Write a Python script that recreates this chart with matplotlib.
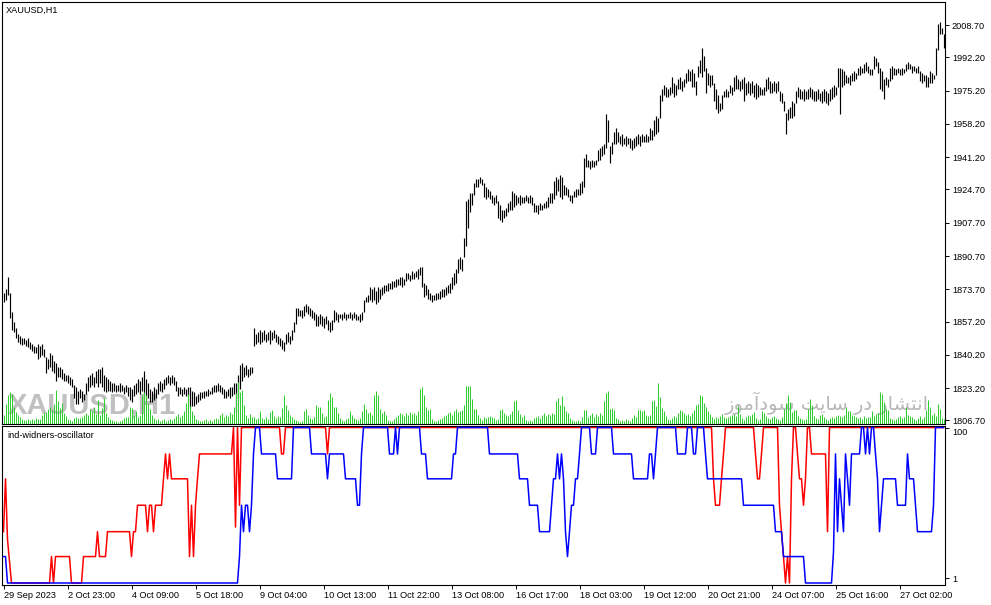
import numpy as np
import matplotlib
matplotlib.use("Agg")
import matplotlib.pyplot as plt

# ---------------- data (hourly XAUUSD bars, 29 Sep - 27 Oct 2023) ----------------
HIGH = [
    1872, 1874, 1880, 1872, 1862, 1857, 1854, 1851, 1850, 1849, 1849,
    1848, 1849, 1847, 1846, 1845, 1844, 1846, 1845, 1846, 1843,
    1839, 1838, 1841, 1840, 1837, 1836, 1834, 1834, 1833, 1831,
    1830, 1830, 1829, 1828, 1825, 1824, 1822, 1823, 1822, 1820,
    1826, 1829, 1830, 1831, 1829, 1832, 1833, 1833, 1834, 1830,
    1829, 1828, 1827, 1826, 1826, 1825, 1825, 1826, 1825, 1824,
    1825, 1824, 1824, 1823, 1825, 1826, 1828, 1827, 1829, 1832,
    1828, 1826, 1823, 1822, 1824, 1823, 1826, 1827, 1826, 1828,
    1829, 1830, 1829, 1830, 1829, 1827, 1824, 1824, 1823, 1824,
    1823, 1824, 1824, 1822, 1821, 1819, 1820, 1821, 1821, 1822,
    1822, 1823, 1822, 1824, 1825, 1825, 1826, 1825, 1824, 1823,
    1822, 1823, 1824, 1824, 1826, 1826, 1830, 1835, 1836, 1834,
    1835, 1833, 1834, 1834, 1854, 1851, 1852, 1853, 1852, 1853,
    1851, 1852, 1853, 1852, 1853, 1851, 1850, 1849, 1848, 1847,
    1851, 1852, 1850, 1853, 1857, 1864, 1864, 1863, 1863, 1865,
    1866, 1865, 1864, 1863, 1862, 1861, 1860, 1861, 1860, 1859,
    1860, 1858, 1857, 1858, 1863, 1862, 1861, 1861, 1861, 1862,
    1861, 1861, 1862, 1861, 1862, 1861, 1860, 1861, 1862, 1868,
    1870, 1871, 1875, 1874, 1875, 1873, 1875, 1874, 1875, 1876,
    1876, 1877, 1877, 1878, 1878, 1879, 1879, 1880, 1880, 1879,
    1882, 1882, 1881, 1883, 1882, 1883, 1884, 1885, 1885, 1877,
    1876, 1874, 1872, 1871, 1871, 1872, 1872, 1873, 1874, 1874,
    1875, 1876, 1877, 1880, 1882, 1884, 1889, 1890, 1889, 1900,
    1919, 1920, 1923, 1923, 1928, 1930, 1930, 1931, 1930, 1928,
    1926, 1925, 1924, 1922, 1921, 1922, 1919, 1917, 1914, 1914,
    1915, 1918, 1919, 1924, 1923, 1922, 1921, 1922, 1921, 1921,
    1922, 1921, 1922, 1921, 1918, 1917, 1917, 1918, 1917, 1918,
    1919, 1921, 1923, 1923, 1929, 1931, 1930, 1932, 1931, 1927,
    1926, 1925, 1922, 1922, 1924, 1925, 1925, 1928, 1929, 1941,
    1943, 1940, 1939, 1940, 1939, 1940, 1945, 1946, 1947, 1948,
    1963, 1960, 1947, 1949, 1954, 1956, 1954, 1952, 1953, 1951,
    1952, 1951, 1951, 1950, 1951, 1952, 1953, 1952, 1953, 1952,
    1953, 1952, 1956, 1955, 1960, 1962, 1961, 1973, 1976, 1978,
    1977, 1976, 1977, 1982, 1979, 1978, 1981, 1982, 1980, 1981,
    1984, 1986, 1985, 1986, 1984, 1980, 1988, 1991, 1997, 1993,
    1987, 1984, 1983, 1983, 1979, 1976, 1973, 1969, 1973, 1975,
    1976, 1975, 1978, 1977, 1982, 1983, 1981, 1980, 1981, 1982,
    1979, 1980, 1979, 1980, 1978, 1979, 1978, 1977, 1976, 1977,
    1981, 1982, 1980, 1979, 1980, 1979, 1980, 1975, 1974, 1970,
    1964, 1966, 1967, 1970, 1969, 1975, 1977, 1976, 1975, 1976,
    1975, 1976, 1977, 1976, 1975, 1975, 1976, 1974, 1975, 1976,
    1975, 1974, 1976, 1977, 1978, 1977, 1987, 1987, 1986, 1985,
    1983, 1982, 1983, 1984, 1985, 1984, 1987, 1988, 1987, 1989,
    1990, 1988, 1986, 1986, 1993, 1992, 1990, 1987, 1985, 1981,
    1982, 1981, 1987, 1988, 1987, 1986, 1987, 1986, 1987, 1986,
    1989, 1990, 1989, 1988, 1988, 1987, 1988, 1985, 1984, 1983,
    1983, 1982, 1985, 1984, 1983, 1997, 2009, 2010, 2007, 2004,
]

LOW = [
    1867, 1868, 1871, 1859, 1853, 1852, 1849, 1847, 1846, 1845.5, 1846,
    1845, 1844, 1843, 1842, 1841, 1841, 1838, 1839, 1840, 1839,
    1831, 1833, 1834, 1832, 1831, 1827, 1829, 1829, 1828, 1827,
    1827, 1826, 1825, 1824, 1818, 1815, 1815, 1818, 1816, 1817,
    1820, 1822, 1824, 1825, 1824, 1826, 1824, 1826, 1824, 1822,
    1821, 1822, 1822, 1821, 1822, 1821, 1822, 1821, 1822, 1820,
    1821, 1819, 1817, 1816, 1819, 1820, 1821, 1820, 1822, 1820,
    1817, 1818, 1816, 1816, 1817, 1818, 1820, 1822, 1821, 1823,
    1825, 1826, 1825, 1826, 1825, 1822, 1819, 1820, 1819, 1820,
    1819, 1819, 1813, 1814, 1814, 1815, 1816, 1817, 1818, 1818,
    1819, 1819, 1820, 1820, 1821, 1821, 1822, 1821, 1820, 1818,
    1818, 1819, 1818, 1819, 1820, 1811, 1818, 1823, 1827, 1829,
    1830, 1829, 1830, 1831, 1845, 1846, 1847, 1846, 1847, 1848,
    1847, 1848, 1846, 1848, 1849, 1847, 1846, 1845, 1843, 1842,
    1846, 1847, 1846, 1848, 1852, 1856, 1860, 1860, 1859, 1860,
    1862, 1861, 1860, 1859, 1858, 1855, 1855, 1856, 1855, 1854,
    1856, 1853, 1852, 1853, 1857, 1858, 1857, 1859, 1858, 1859,
    1858, 1859, 1859, 1858, 1859, 1858, 1858, 1857, 1858, 1862,
    1867, 1867, 1868, 1867, 1868, 1866, 1867, 1869, 1871, 1872,
    1873, 1873, 1874, 1874, 1875, 1875, 1876, 1876, 1875, 1876,
    1878, 1879, 1878, 1879, 1879, 1880, 1879, 1881, 1875, 1870,
    1871, 1869, 1868, 1867, 1868, 1868, 1869, 1869, 1870, 1870,
    1871, 1872, 1872, 1874, 1876, 1877, 1882, 1884, 1883, 1890,
    1896, 1905, 1913, 1917, 1922, 1926, 1926, 1928, 1927, 1921,
    1920, 1921, 1920, 1918, 1917, 1918, 1910, 1909, 1908, 1910,
    1911, 1913, 1914, 1914, 1916, 1917, 1918, 1917, 1918, 1918,
    1919, 1918, 1918, 1917, 1913, 1913, 1912, 1914, 1914, 1915,
    1915, 1916, 1918, 1918, 1920, 1922, 1924, 1921, 1920, 1922,
    1922, 1921, 1919, 1918, 1921, 1921, 1922, 1922, 1923, 1926,
    1936, 1936, 1935, 1936, 1936, 1937, 1939, 1940, 1942, 1943,
    1946, 1949, 1938, 1943, 1948, 1948, 1949, 1948, 1947, 1948,
    1947, 1948, 1946, 1945, 1946, 1947, 1948, 1947, 1949, 1949,
    1949, 1949, 1950, 1950, 1952, 1953, 1954, 1961, 1970, 1973,
    1972, 1972, 1973, 1974, 1972, 1973, 1976, 1976, 1975, 1977,
    1979, 1980, 1980, 1977, 1977, 1973, 1982, 1984, 1982, 1985,
    1974, 1978, 1977, 1978, 1970, 1966, 1964, 1965, 1966, 1972,
    1972, 1972, 1974, 1973, 1975, 1976, 1976, 1975, 1976, 1970,
    1973, 1974, 1973, 1974, 1972, 1971, 1972, 1973, 1973, 1973,
    1975, 1976, 1974, 1974, 1975, 1974, 1975, 1970, 1969, 1965,
    1953, 1960, 1961, 1961, 1962, 1969, 1972, 1971, 1971, 1970,
    1971, 1971, 1972, 1971, 1970, 1970, 1971, 1970, 1969, 1970,
    1969, 1968, 1970, 1971, 1972, 1973, 1977, 1963, 1977, 1978,
    1979, 1979, 1978, 1980, 1980, 1981, 1983, 1983, 1984, 1984,
    1985, 1984, 1983, 1983, 1986, 1988, 1984, 1976, 1975, 1971,
    1978, 1977, 1980, 1981, 1983, 1983, 1984, 1983, 1983, 1984,
    1985, 1986, 1986, 1984, 1985, 1984, 1984, 1980, 1979, 1980,
    1977, 1977, 1979, 1979, 1981, 1983, 1996, 2004, 2004, 1997,
]

# tick volume (hundreds of ticks)
VOLUME = [
    8, 19, 28, 31, 29, 16, 11, 8, 6, 4, 3,
    3, 4, 3, 4, 3, 5, 4, 4, 8, 10,
    11, 14, 16, 13, 19, 33, 22, 15, 20, 10,
    7, 4, 3, 2, 5, 6, 5, 5, 6, 8,
    10, 8, 14, 12, 16, 9, 23, 8, 15, 25,
    10, 6, 4, 3, 2, 2, 1, 2, 3, 5,
    6, 6, 16, 15, 8, 12, 6, 8, 28, 31,
    28, 20, 14, 8, 5, 3, 4, 2, 3, 4,
    2, 3, 4, 3, 5, 7, 9, 6, 8, 12,
    20, 29, 17, 12, 8, 4, 3, 2, 2, 3,
    4, 2, 3, 2, 4, 5, 4, 8, 10, 6,
    8, 7, 11, 9, 16, 30, 41, 31, 33, 18,
    8, 5, 9, 6, 6, 4, 5, 12, 5, 4,
    6, 4, 11, 13, 7, 5, 7, 6, 15, 28,
    18, 13, 8, 6, 4, 3, 2, 1, 2, 12,
    14, 8, 5, 4, 6, 18, 16, 16, 10, 6,
    7, 23, 30, 26, 16, 16, 10, 5, 3, 2,
    4, 5, 12, 8, 5, 4, 3, 5, 12, 19,
    14, 10, 11, 8, 28, 32, 28, 14, 10, 12,
    8, 3, 2, 2, 4, 6, 8, 10, 9, 7,
    10, 8, 11, 9, 10, 8, 12, 34, 36, 28,
    16, 13, 14, 4, 2, 2, 3, 4, 5, 7,
    8, 10, 11, 8, 12, 14, 11, 12, 13, 18,
    37, 37, 37, 24, 14, 14, 8, 5, 3, 6,
    5, 6, 7, 6, 5, 3, 4, 13, 14, 10,
    8, 7, 9, 12, 22, 23, 13, 9, 6, 8,
    3, 2, 3, 2, 5, 6, 7, 5, 8, 10,
    7, 9, 8, 10, 9, 22, 25, 18, 27, 17,
    12, 10, 5, 3, 2, 2, 3, 2, 6, 13,
    13, 6, 8, 10, 6, 9, 7, 10, 8, 22,
    30, 32, 14, 15, 13, 5, 4, 2, 3, 2,
    4, 3, 2, 5, 8, 6, 13, 13, 12, 13,
    8, 7, 8, 22, 23, 17, 40, 26, 15, 12,
    7, 4, 3, 5, 7, 6, 10, 13, 12, 10,
    8, 9, 7, 10, 13, 18, 19, 28, 27, 20,
    16, 12, 9, 6, 4, 6, 5, 7, 9, 6,
    5, 6, 7, 8, 9, 7, 17, 9, 5, 3,
    6, 8, 7, 9, 11, 5, 3, 4, 12, 10,
    7, 5, 4, 6, 7, 5, 4, 3, 6, 14,
    20, 28, 21, 11, 13, 13, 7, 5, 4, 3,
    4, 14, 24, 18, 7, 5, 4, 8, 9, 6,
    4, 3, 5, 6, 5, 7, 8, 7, 6, 8,
    16, 12, 12, 8, 7, 6, 5, 6, 4, 7,
    5, 6, 6, 12, 7, 9, 10, 31, 29, 21,
    14, 13, 5, 4, 3, 4, 6, 7, 5, 6,
    16, 8, 7, 6, 4, 3, 5, 7, 4, 6,
    13, 23, 16, 8, 10, 7, 19, 14, 5, 4,
]

# ind-widners-oscillator: red and blue lines (0..100)
RED = [
    33, 67, 28, 14, 0, 0, 0, 0, 0, 0, 0, 0, 0, 0, 0, 0, 0, 0, 0, 0,
    0, 0, 0, 0, 17, 0, 17, 17, 17, 17, 17, 17, 17, 17, 0, 0, 0, 0, 0, 0,
    17, 17, 17, 17, 17, 17, 17, 33, 17, 17, 17, 17, 33, 33, 33, 33, 33, 33, 33, 33,
    33, 33, 33, 33, 17, 33, 33, 50, 50, 50, 50, 50, 33, 50, 50, 33, 50, 50, 50, 50,
    67, 83, 67, 83, 67, 67, 67, 67, 67, 67, 67, 67, 67, 17, 50, 17, 50, 67, 83, 83,
    83, 83, 83, 83, 83, 83, 83, 83, 83, 83, 83, 83, 83, 83, 83, 100, 36, 100, 50, 100,
    100, 100, 100, 100, 100, 100, 100, 100, 100, 100, 100, 100, 100, 100, 100, 100, 100, 100, 100, 83,
    83, 100, 100, 100, 100, 100, 100, 100, 100, 100, 100, 100, 100, 100, 100, 100, 100, 100, 100, 100,
    100, 100, 83, 100, 100, 100, 100, 100, 100, 100, 100, 100, 100, 100, 100, 100, 100, 100, 100, 100,
    100, 100, 100, 100, 100, 100, 100, 100, 100, 100, 100, 100, 100, 100, 100, 100, 100, 100, 100, 100,
    100, 100, 100, 100, 100, 100, 100, 100, 100, 100, 100, 100, 100, 100, 100, 100, 100, 100, 100, 100,
    100, 100, 100, 100, 100, 100, 100, 100, 100, 100, 100, 100, 100, 100, 100, 100, 100, 100, 100, 100,
    100, 100, 100, 100, 100, 100, 100, 100, 100, 100, 100, 100, 100, 100, 100, 100, 100, 100, 100, 100,
    100, 100, 100, 100, 100, 100, 100, 100, 100, 100, 100, 100, 100, 100, 100, 100, 100, 100, 100, 100,
    100, 100, 100, 100, 100, 100, 100, 100, 100, 100, 100, 100, 100, 100, 100, 100, 100, 100, 100, 100,
    100, 100, 100, 100, 100, 100, 100, 100, 100, 100, 100, 100, 100, 100, 100, 100, 100, 100, 100, 100,
    100, 100, 100, 100, 100, 100, 100, 100, 100, 100, 100, 100, 100, 100, 100, 100, 100, 100, 100, 100,
    100, 100, 100, 100, 100, 100, 100, 100, 100, 100, 100, 100, 100, 100, 100, 67, 50, 50, 50, 67,
    83, 100, 100, 100, 100, 100, 100, 100, 100, 100, 100, 100, 100, 100, 100, 100, 83, 67, 67, 83,
    100, 100, 100, 100, 100, 100, 100, 100, 50, 33, 17, 0, 17, 0, 67, 100, 100, 83, 67, 67,
    50, 67, 100, 100, 83, 83, 83, 83, 83, 83, 83, 83, 33, 100, 100, 100, 100, 100, 100, 100,
    100, 100, 100, 100, 100, 100, 100, 100, 100, 100, 100, 100, 100, 100, 100, 100, 100, 100, 100, 100,
    100, 100, 100, 100, 100, 100, 100, 100, 100, 100, 100, 100, 100, 100, 100, 100, 100, 100, 100, 100,
    100, 100, 100, 100, 100, 100, 100, 100, 100, 100, 100,
]

BLUE = [
    17, 17, 0, 0, 0, 0, 0, 0, 0, 0, 0, 0, 0, 0, 0, 0, 0, 0, 0, 0,
    0, 0, 0, 0, 0, 0, 0, 0, 0, 0, 0, 0, 0, 0, 0, 0, 0, 0, 0, 0,
    0, 0, 0, 0, 0, 0, 0, 0, 0, 0, 0, 0, 0, 0, 0, 0, 0, 0, 0, 0,
    0, 0, 0, 0, 0, 0, 0, 0, 0, 0, 0, 0, 0, 0, 0, 0, 0, 0, 0, 0,
    0, 0, 0, 0, 0, 0, 0, 0, 0, 0, 0, 0, 0, 0, 0, 0, 0, 0, 0, 0,
    0, 0, 0, 0, 0, 0, 0, 0, 0, 0, 0, 0, 0, 0, 0, 0, 0, 0, 17, 50,
    33, 50, 50, 33, 50, 83, 100, 100, 100, 83, 83, 83, 83, 83, 83, 83, 83, 67, 67, 67,
    67, 67, 67, 67, 67, 100, 100, 100, 100, 100, 100, 100, 100, 100, 83, 83, 83, 83, 83, 83,
    83, 83, 67, 83, 83, 83, 83, 83, 83, 83, 83, 67, 67, 67, 67, 67, 67, 50, 50, 83,
    100, 100, 100, 100, 100, 100, 100, 100, 100, 100, 100, 100, 100, 83, 83, 83, 100, 83, 100, 100,
    100, 100, 100, 100, 100, 100, 100, 100, 100, 83, 83, 83, 67, 67, 67, 67, 67, 67, 67, 67,
    67, 67, 67, 67, 67, 83, 83, 100, 100, 100, 100, 100, 100, 100, 100, 100, 100, 100, 100, 100,
    100, 100, 100, 83, 83, 83, 83, 83, 83, 83, 83, 83, 83, 83, 83, 83, 83, 83, 67, 67,
    67, 67, 67, 50, 50, 50, 50, 50, 33, 33, 33, 33, 33, 33, 50, 67, 67, 83, 67, 83,
    67, 33, 17, 33, 50, 50, 67, 67, 83, 100, 100, 100, 100, 100, 83, 83, 83, 100, 100, 100,
    100, 100, 100, 100, 100, 83, 83, 83, 83, 83, 83, 83, 83, 83, 83, 67, 67, 67, 67, 67,
    67, 67, 67, 83, 83, 67, 83, 100, 100, 100, 100, 100, 100, 100, 100, 100, 100, 83, 83, 83,
    83, 83, 100, 100, 100, 83, 83, 100, 100, 100, 100, 83, 67, 67, 67, 67, 67, 67, 67, 67,
    67, 67, 67, 67, 67, 67, 67, 67, 67, 67, 50, 50, 50, 50, 50, 50, 50, 50, 50, 50,
    50, 50, 50, 50, 50, 50, 33, 33, 33, 33, 17, 17, 17, 17, 17, 17, 17, 17, 17, 17,
    17, 0, 0, 0, 0, 0, 0, 0, 0, 0, 0, 0, 0, 0, 0, 20, 83, 33, 67, 50,
    33, 83, 67, 50, 83, 83, 83, 83, 83, 100, 100, 83, 100, 83, 100, 100, 83, 67, 33, 50,
    67, 67, 67, 67, 67, 67, 67, 50, 50, 50, 50, 50, 83, 67, 67, 67, 50, 33, 33, 33,
    33, 33, 33, 33, 33, 50, 100, 100, 100, 100, 100,
]

TICK_BARS = [0, 32, 64, 96, 128, 160, 192, 224, 256, 288, 320, 352, 384, 416, 448]
TICK_LABELS = ["29 Sep 2023", "2 Oct 23:00", "4 Oct 09:00", "5 Oct 18:00",
               "9 Oct 04:00", "10 Oct 13:00", "11 Oct 22:00", "13 Oct 08:00",
               "16 Oct 17:00", "18 Oct 03:00", "19 Oct 12:00", "20 Oct 21:00",
               "24 Oct 07:00", "25 Oct 16:00", "27 Oct 02:00"]
PRICE_TICKS = [2008.70, 1992.20, 1975.20, 1958.20, 1941.20, 1924.70, 1907.70,
               1890.70, 1873.70, 1857.20, 1840.20, 1823.20, 1806.70]
OSC_TICKS = [100, 3.2]
OSC_TICK_LABELS = ["100", "1"]

# ---------------- figure ----------------
W, HP = 991, 605
plt.rcParams["font.family"] = ["Liberation Sans", "DejaVu Sans"]
FS = 6.6

fig = plt.figure(figsize=(W / 100, HP / 100), dpi=100)
fig.patch.set_facecolor("white")


def box(x0, y0, x1, y1):
    return [x0 / W, 1 - y1 / HP, (x1 - x0) / W, (y1 - y0) / HP]


def fpos(x, y):
    return (x / W, 1 - y / HP)


ax = fig.add_axes(box(2, 2, 945, 423.5))
axv = ax.twinx()
axo = fig.add_axes(box(2, 425.5, 945, 585))

XLIM = (-0.75, 470.75)

# price bars
n = min(len(HIGH), len(LOW))
ax.vlines(np.arange(n), LOW[:n], HIGH[:n], colors="black", linewidth=0.85, zorder=3)
ax.set_xlim(*XLIM)
ax.set_ylim(1805.16, 2020.46)
ax.yaxis.tick_right()
ax.set_yticks(PRICE_TICKS)
ax.set_yticklabels([f"{p:.2f}" for p in PRICE_TICKS])
ax.tick_params(axis="y", which="both", left=False, right=True, labelleft=False,
               labelright=True, direction="out", length=3, width=0.7, pad=2,
               labelsize=FS, colors="black")
ax.tick_params(axis="x", bottom=False, labelbottom=False, top=False)

# volumes (one volume unit drawn as one pixel of the 421-pixel-high price pane)
axv.vlines(np.arange(len(VOLUME)), 0, VOLUME, colors="#32cd32", linewidth=0.75)
axv.set_xlim(*XLIM)
axv.set_ylim(0, 421)
axv.set_yticks([])
for s in axv.spines.values():
    s.set_visible(False)

# watermarks
ax.text(*fpos(8, 406), "XAUUSD,H1", transform=fig.transFigure, ha="left", va="center",
        fontsize=21, fontweight="bold", color="#c0c0c0",
        family=["Liberation Sans Narrow", "Liberation Sans", "DejaVu Sans"], zorder=1)
persian = ("\uFEAF\uFEEE\uFEE3\uFE81\uFEA9\uFEEE\uFEB3" + " " +
           "\uFE96\uFEF3\uFE8E\uFEB3" + " " + "\uFEAD\uFEA9" + " " +
           "\uFEAD\uFE8E\uFEB8\uFE98\uFEE7\uFE8D")
ax.text(*fpos(929, 403), persian, transform=fig.transFigure, ha="right", va="center",
        fontsize=14, color="#b8b8b8", family=["DejaVu Sans"], zorder=1)

# oscillator
axo.plot(np.arange(len(RED)), RED, color="#ff0000", linewidth=1.1, zorder=2)
axo.plot(np.arange(len(BLUE)), BLUE, color="#0000ff", linewidth=1.1, zorder=3)
axo.set_xlim(*XLIM)
axo.set_ylim(-1.29, 101.29)
axo.yaxis.tick_right()
axo.set_yticks(OSC_TICKS)
axo.set_yticklabels(OSC_TICK_LABELS)
axo.tick_params(axis="y", left=False, right=True, labelleft=False, labelright=True,
                direction="out", length=3, width=0.7, pad=2, labelsize=FS)
for lbl in axo.get_yticklabels():
    if lbl.get_text() == "100":
        lbl.set_verticalalignment("top")
axo.set_xticks(TICK_BARS)
axo.set_xticklabels(TICK_LABELS, ha="left")
axo.tick_params(axis="x", direction="out", length=3, width=0.7, pad=1, labelsize=FS)

for a in (ax, axo):
    for s in a.spines.values():
        s.set_linewidth(0.8)
        s.set_color("black")

fig.text(*fpos(6, 10), "XAUUSD,H1", ha="left", va="center", fontsize=FS, color="black")
fig.text(*fpos(7, 436), "ind-widners-oscillator", ha="left", va="center",
         fontsize=FS, color="black")

fig.savefig("out.png", dpi=100, facecolor="white")
